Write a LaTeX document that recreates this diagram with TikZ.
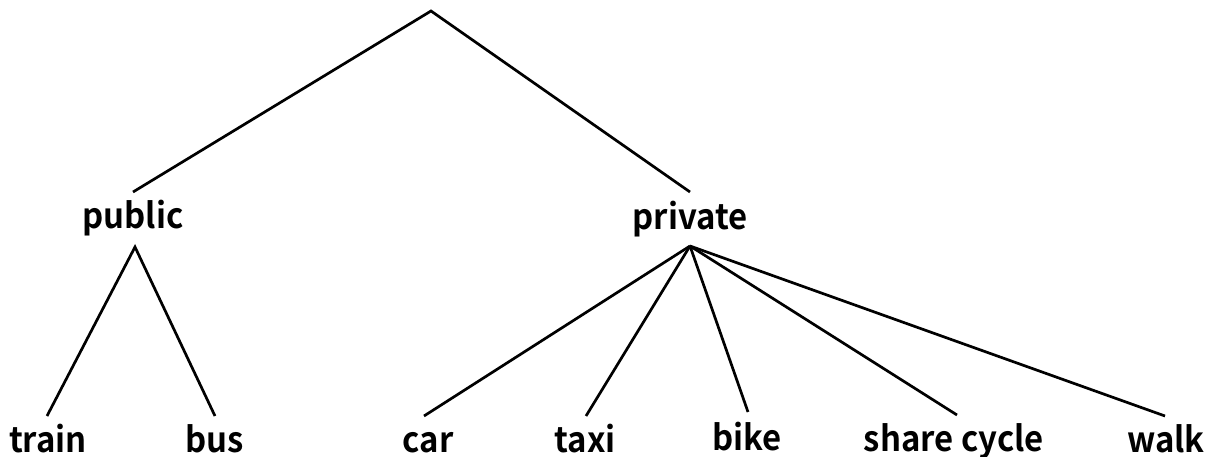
\documentclass[tikz,border=0pt]{standalone}
\usepackage{fontspec}
\setmainfont{Noto Sans CJK JP}[BoldFont={* Bold}]
\newfontfamily\lblfont{Noto Sans CJK JP Bold}[FakeStretch=0.94]
\begin{document}
\begin{tikzpicture}[x=1pt,y=-1pt,
  lbl/.style={anchor=base,inner sep=0pt,font=\fontsize{35}{40}\lblfont},
  edge/.style={line width=2.7pt,line join=miter}]
\useasboundingbox (0,0) rectangle (1206,457);
% labels
\node[lbl] (public) at (133,228) {public};
\node[lbl] (private) at (690,229) {private};
\node[lbl] (train) at (48,452) {train};
\node[lbl] (bus) at (215,452) {bus};
\node[lbl] (car) at (428,452) {car};
\node[lbl] (taxi) at (585,452) {taxi};
\node[lbl] (bike) at (747,450) {bike};
\node[lbl] (share) at (954,451) {share cycle};
\node[lbl] (walk) at (1166,452) {walk};
% connection points
\coordinate (root) at (431,11);
\coordinate (pubT) at (133,192);
\coordinate (priT) at (690,192);
\coordinate (pubB) at (135,247);
\coordinate (priB) at (690,246);
\coordinate (trainT) at (47,416);
\coordinate (busT) at (215,416);
\coordinate (carT) at (424,416);
\coordinate (taxiT) at (586,416);
\coordinate (bikeT) at (748,412);
\coordinate (shareT) at (957,415);
\coordinate (walkT) at (1165,416);
% edges
\draw[edge] (pubT) -- (root) -- (priT);
\draw[edge] (trainT) -- (pubB) -- (busT);
\foreach \c in {carT,taxiT,bikeT,shareT,walkT}
  \draw[edge] (priB) -- (\c);
\end{tikzpicture}
\end{document}
